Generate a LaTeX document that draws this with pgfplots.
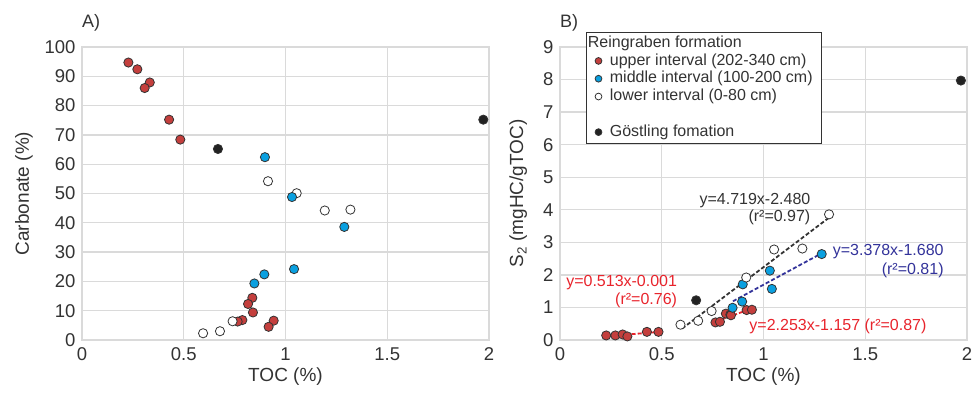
\documentclass[border=0pt]{standalone}
\usepackage{fontspec}
\setmainfont{Liberation Sans}
\usepackage{pgfplots}
\pgfplotsset{compat=1.18}
\definecolor{ptred}{HTML}{C43F3D}
\definecolor{ptblue}{HTML}{0AA0E0}
\definecolor{ptblack}{HTML}{222222}
\definecolor{edge}{HTML}{333333}
\definecolor{gridc}{HTML}{DADADA}
\definecolor{txtred}{HTML}{E8242C}
\definecolor{txtblue}{HTML}{33339A}
\definecolor{txtgray}{HTML}{333333}
\pgfplotsset{
  base/.style={
    scale only axis, width=407pt, height=293pt,
    xmin=0, xmax=2, xtick={0,0.5,1,1.5,2},
    grid=major, major grid style={gridc, line width=1.3pt},
    axis line style={gridc, line width=1.3pt},
    major tick length=0pt,
    /pgf/number format/assume math mode=true,
    tick label style={font=\fontsize{18.5}{20}\selectfont, text=txtgray},
    label style={font=\fontsize{19}{21}\selectfont, text=txtgray},
    xticklabel style={yshift=-4pt},
    yticklabel style={xshift=-3pt},
    xlabel={TOC (\%)},
    xlabel style={at={(axis description cs:0.5,-0.125)}, anchor=center},
    clip=false,
  },
  mk/.style={only marks, mark=*, mark size=4.6pt, mark options={draw=edge, line width=0.8pt, fill=#1}, legend image post style={mark size=3.4pt}},
}
\begin{document}
\begin{tikzpicture}
\useasboundingbox (-82pt,-52pt) rectangle (894pt,340pt);
% ---------------- A ----------------
\begin{axis}[base, at={(0pt,0pt)}, anchor=south west,
  ymin=0, ymax=100, ytick={0,10,...,100},
  ylabel={Carbonate (\%)},
  ylabel style={at={(axis description cs:-0.112,0.5)}, anchor=south},
]
\addplot[mk=ptred] coordinates {
 (0.228,94.7) (0.272,92.4) (0.333,87.9) (0.308,86.0) (0.428,75.2) (0.483,68.4)
 (0.837,14.4) (0.816,12.3) (0.840,9.4) (0.788,6.8) (0.765,6.3) (0.942,6.6) (0.917,4.5)};
\addplot[mk=white] coordinates {
 (0.914,54.2) (1.055,50.1) (1.193,44.2) (1.319,44.5) (0.740,6.4) (0.678,3.0) (0.595,2.3)};
\addplot[mk=ptblue] coordinates {
 (0.899,62.4) (1.032,48.8) (1.289,38.6) (1.042,24.2) (0.896,22.4) (0.847,19.3)};
\addplot[mk=ptblack] coordinates {(0.668,65.2) (1.972,75.2)};
\node[anchor=base west, font=\fontsize{18}{20}\selectfont, text=txtgray, inner sep=0pt] at ([yshift=20pt]rel axis cs:0,1) {A)};
\end{axis}
% ---------------- B ----------------
\begin{axis}[base, at={(478pt,0pt)}, anchor=south west,
  ymin=0, ymax=9, ytick={0,1,...,9},
  ylabel={S\textsubscript{2} (mgHC/gTOC)},
  ylabel style={at={(axis description cs:-0.072,0.5)}, anchor=south},
  legend image code/.code={\draw[mark repeat=2,mark phase=2,#1] plot coordinates {(0pt,0pt)(4pt,0pt)(8pt,0pt)};},
  legend style={at={(0.064,1.052)}, anchor=north west, draw=edge, line width=0.9pt,
    fill=white,
    nodes={inner sep=1pt, text height=12pt, text depth=3.8pt, font=\fontsize{16}{18}\selectfont, text=txtgray},
    column sep=7pt,
    inner xsep=8pt, inner ysep=2pt},
  legend cell align=left,
]
% regression lines
\addplot[forget plot, txtgray, line width=1.8pt, dash pattern=on 4pt off 2.2pt] coordinates {(0.600,0.351) (1.320,3.749)};
\addplot[forget plot, txtblue, line width=1.8pt, dash pattern=on 4pt off 2.2pt] coordinates {(0.850,1.191) (1.286,2.664)};
\addplot[forget plot, txtred, line width=1.8pt, dash pattern=on 4pt off 2.2pt] coordinates {(0.230,0.117) (0.484,0.247)};
\addplot[forget plot, txtred, line width=1.8pt, dash pattern=on 4pt off 2.2pt] coordinates {(0.765,0.567) (0.943,0.968)};
\addlegendimage{empty legend}
\addlegendentry{\hspace*{-22pt}Reingraben formation}
\addplot[mk=ptred] coordinates {
 (0.227,0.14) (0.272,0.14) (0.308,0.17) (0.331,0.11) (0.427,0.25) (0.484,0.25)
 (0.764,0.54) (0.786,0.56) (0.815,0.81) (0.837,0.78) (0.840,0.76) (0.917,0.92) (0.943,0.93)};
\addlegendentry{upper interval (202-340 cm)}
\addplot[mk=ptblue] coordinates {
 (0.848,0.99) (0.895,1.18) (0.898,1.71) (1.031,2.13) (1.041,1.57) (1.286,2.64)};
\addlegendentry{middle interval (100-200 cm)}
\addplot[mk=white] coordinates {
 (0.592,0.47) (0.679,0.59) (0.745,0.89) (0.915,1.92) (1.052,2.78) (1.191,2.81) (1.322,3.86)};
\addlegendentry{lower interval (0-80 cm)}
\addlegendimage{empty legend}
\addlegendentry{}
\addplot[mk=ptblack] coordinates {(0.669,1.22) (1.970,7.97)};
\addlegendentry{Göstling fomation}
\node[anchor=base west, font=\fontsize{18}{20}\selectfont, text=txtgray, inner sep=0pt] at ([yshift=20pt]rel axis cs:0,1) {B)};
% annotations
\node[anchor=base east, inner sep=0pt, font=\fontsize{16}{18}\selectfont, text=txtgray] at (axis cs:1.231,4.17) {y=4.719x-2.480};
\node[anchor=base east, inner sep=0pt, font=\fontsize{16}{18}\selectfont, text=txtgray] at (axis cs:1.231,3.63) {(r²=0.97)};
\node[anchor=base east, inner sep=0pt, font=\fontsize{16}{18}\selectfont, text=txtblue] at (axis cs:1.886,2.586) {y=3.378x-1.680};
\node[anchor=base east, inner sep=0pt, font=\fontsize{16}{18}\selectfont, text=txtblue] at (axis cs:1.886,2.025) {(r²=0.81)};
\node[anchor=base east, inner sep=0pt, font=\fontsize{16}{18}\selectfont, text=txtred] at (axis cs:0.576,1.635) {y=0.513x-0.001};
\node[anchor=base east, inner sep=0pt, font=\fontsize{16}{18}\selectfont, text=txtred] at (axis cs:0.576,1.083) {(r²=0.76)};
\node[anchor=base west, inner sep=0pt, font=\fontsize{16}{18}\selectfont, text=txtred] at (axis cs:0.930,0.307) {y=2.253x-1.157 (r²=0.87)};
\end{axis}
\end{tikzpicture}
\end{document}
